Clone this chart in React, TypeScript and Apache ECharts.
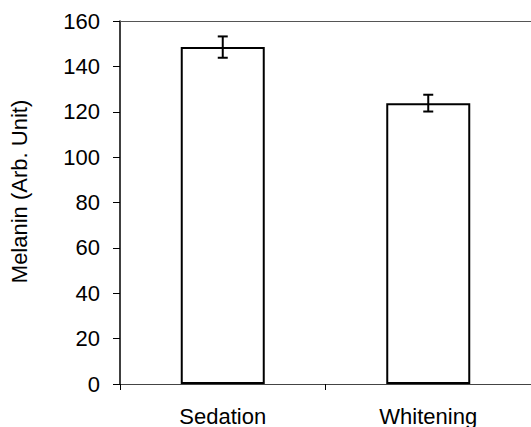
import React, { useEffect, useRef } from "react";
import * as echarts from "echarts";

const categories = ["Sedation", "Whitening"];
const means = [148.5, 123.8];
const errors = [4.7, 3.7];
const yTicks = [0, 20, 40, 60, 80, 100, 120, 140, 160];

const FONT = "'Liberation Sans', Arial, sans-serif";

export default function App() {
  const ref = useRef<HTMLDivElement>(null);
  useEffect(() => {
    document.body.style.margin = "0";
    const chart = echarts.init(ref.current!, null, { renderer: "svg" });
    const errData = categories.map((c, i) => [i, means[i] - errors[i], means[i] + errors[i]]);
    chart.setOption({
      animation: false,
      backgroundColor: "#ffffff",
      grid: { left: 115, top: 21, width: 418, height: 363, containLabel: false },
      xAxis: [
        {
          type: "category",
          data: categories,
          position: "bottom",
          axisLine: { show: true, lineStyle: { color: "#444", width: 1 } },
          axisTick: { show: true, alignWithLabel: false, length: 6, lineStyle: { color: "#000", width: 1 } },
          axisLabel: { color: "#000", fontSize: 22, fontFamily: FONT, margin: 21 },
          splitLine: { show: false },
        },
        {
          type: "category",
          data: categories,
          position: "top",
          axisLine: { show: true, lineStyle: { color: "#555", width: 1 } },
          axisTick: { show: false },
          axisLabel: { show: false },
          splitLine: { show: false },
        },
      ],
      yAxis: {
        type: "value",
        min: yTicks[0],
        max: yTicks[yTicks.length - 1],
        interval: 20,
        name: "Melanin (Arb. Unit)",
        nameLocation: "middle",
        nameGap: 90,
        nameTextStyle: { color: "#000", fontSize: 22, fontFamily: FONT, padding: [0, 0, 0, 22] },
        axisLine: { show: true, lineStyle: { color: "#000", width: 1.5 } },
        axisTick: { show: true, length: 7, lineStyle: { color: "#000", width: 1 } },
        axisLabel: { color: "#000", fontSize: 22, fontFamily: FONT, margin: 20 },
        splitLine: { show: false },
      },
      series: [
        {
          type: "bar",
          data: means,
          barWidth: 84,
          itemStyle: { color: "#ffffff", borderColor: "#000", borderWidth: 2 },
        },
        {
          type: "custom",
          data: errData,
          z: 10,
          renderItem: (params: any, api: any) => {
            const idx = api.value(0);
            const lo = api.coord([idx, api.value(1)]);
            const hi = api.coord([idx, api.value(2)]);
            const hw = 5;
            const style = { stroke: "#000", lineWidth: 2 };
            return {
              type: "group",
              children: [
                { type: "line", shape: { x1: lo[0], y1: lo[1], x2: hi[0], y2: hi[1] }, style },
                { type: "line", shape: { x1: lo[0] - hw, y1: lo[1], x2: lo[0] + hw, y2: lo[1] }, style },
                { type: "line", shape: { x1: hi[0] - hw, y1: hi[1], x2: hi[0] + hw, y2: hi[1] }, style },
              ],
            };
          },
        },
      ],
    });
    return () => chart.dispose();
  }, []);
  return <div ref={ref} style={{ position: "absolute", left: 0, top: 0, width: 531, height: 427 }} />;
}
